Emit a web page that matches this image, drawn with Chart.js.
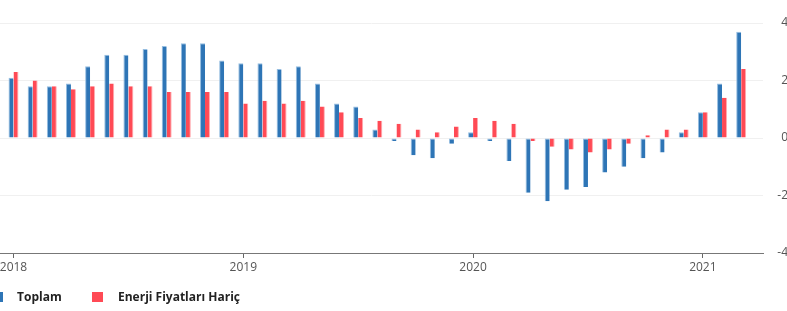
<!DOCTYPE html>
<html>
<head>
<meta charset="utf-8">
<script src="https://cdn.jsdelivr.net/npm/chart.js@4.4.1/dist/chart.umd.min.js"></script>
<style>
    html, body { margin: 0; padding: 0; background: #fff; overflow: hidden; }
    #wrap { position: relative; width: 787px; height: 311px; overflow: hidden; }
    #chartBox { position: absolute; left: -20px; top: 0; width: 808px; height: 311px; }
    .legend { position: absolute; top: 285px; left: 0; height: 24px; font: bold 12px "Open Sans", sans-serif; color: #222; }
    .legend .box { position: absolute; top: 7px; width: 11px; height: 10px; }
    .legend .txt { position: absolute; top: 3px; white-space: nowrap; }
</style>
</head>
<body>
<div id="wrap">
    <div id="chartBox"><canvas id="chart"></canvas></div>
    <div class="legend" id="legend"></div>
</div>
<script>
const months = [
    '2018-01','2018-02','2018-03','2018-04','2018-05','2018-06','2018-07','2018-08','2018-09','2018-10','2018-11','2018-12',
    '2019-01','2019-02','2019-03','2019-04','2019-05','2019-06','2019-07','2019-08','2019-09','2019-10','2019-11','2019-12',
    '2020-01','2020-02','2020-03','2020-04','2020-05','2020-06','2020-07','2020-08','2020-09','2020-10','2020-11','2020-12',
    '2021-01','2021-02','2021-03'
];
const toplam = [
    2.1, 1.8, 1.8, 1.9, 2.5, 2.9, 2.9, 3.1, 3.2, 3.3, 3.3, 2.7,
    2.6, 2.6, 2.4, 2.5, 1.9, 1.2, 1.1, 0.3, -0.1, -0.6, -0.7, -0.2,
    0.2, -0.1, -0.8, -1.9, -2.2, -1.8, -1.7, -1.2, -1.0, -0.7, -0.5, 0.2,
    0.9, 1.9, 3.7
];
const enerjiHaric = [
    2.3, 2.0, 1.8, 1.7, 1.8, 1.9, 1.8, 1.8, 1.6, 1.6, 1.6, 1.6,
    1.2, 1.3, 1.2, 1.3, 1.1, 0.9, 0.7, 0.6, 0.5, 0.3, 0.2, 0.4,
    0.7, 0.6, 0.5, -0.1, -0.3, -0.4, -0.5, -0.4, -0.2, 0.1, 0.3, 0.3,
    0.9, 1.4, 2.4
];
const yearTicks = ['2018-01', '2019-01', '2020-01', '2021-01'];
const yTicks = [-4, -2, 0, 2, 4];
const seriesNames = ['Toplam', 'Enerji Fiyatları Hariç'];

const BLUE = 'rgb(46,117,182)';
const RED = 'rgb(255,74,85)';

function toPoints(values) {
    return values.map(function (v, i) { return { x: i, y: v }; });
}

var ctx = document.getElementById('chart');

var chart = new Chart(ctx, {
    type: 'bar',
    data: {
        datasets: [
            {
                label: seriesNames[0],
                data: toPoints(toplam),
                backgroundColor: BLUE,
                borderColor: 'rgba(150,190,225,1)',
                borderWidth: { left: 1, top: 1, right: 0, bottom: 0 },
                borderSkipped: false
            },
            {
                label: seriesNames[1],
                data: toPoints(enerjiHaric),
                backgroundColor: RED,
                borderColor: 'rgba(255,170,175,1)',
                borderWidth: { left: 0, top: 0, right: 1, bottom: 0 },
                borderSkipped: false
            }
        ]
    },
    options: {
        animation: false,
        responsive: true,
        maintainAspectRatio: false,
        categoryPercentage: 0.52,
        barPercentage: 1,
        layout: { padding: { top: 23, bottom: 30, left: 0, right: 0 } },
        plugins: {
            legend: { display: false },
            tooltip: { enabled: false }
        },
        scales: {
            x: {
                type: 'linear',
                min: -1.75,
                max: 39.14,
                offset: false,
                afterBuildTicks: function (scale) {
                    scale.ticks = yearTicks.map(function (m) { return { value: months.indexOf(m) }; });
                },
                afterFit: function (scale) { scale.height = 28; },
                ticks: {
                    autoSkip: false,
                    maxRotation: 0,
                    padding: 2,
                    color: '#555',
                    font: { family: 'Open Sans', size: 12 },
                    callback: function (v) { return months[v].slice(0, 4); }
                },
                grid: {
                    offset: false,
                    drawOnChartArea: false,
                    drawTicks: true,
                    tickLength: 5,
                    color: '#666'
                },
                border: { display: true, color: '#777', width: 1 }
            },
            y: {
                position: 'right',
                min: -4,
                max: 4,
                afterBuildTicks: function (scale) {
                    scale.ticks = yTicks.map(function (v) { return { value: v }; });
                },
                afterFit: function (scale) { scale.width = 25; },
                ticks: {
                    crossAlign: 'far',
                    padding: 14,
                    color: '#555',
                    font: { family: 'Open Sans', size: 12 }
                },
                grid: {
                    drawTicks: false,
                    color: '#f0f0f0'
                },
                border: { display: false }
            }
        }
    }
});

// legend drawn as html, first box cut off at the left like the source
var legend = document.getElementById('legend');
var legendItems = [
    { name: seriesNames[0], color: BLUE, boxX: -8, textX: 17 },
    { name: seriesNames[1], color: RED, boxX: 92, textX: 118 }
];
legendItems.forEach(function (item) {
    var box = document.createElement('div');
    box.className = 'box';
    box.style.left = item.boxX + 'px';
    box.style.background = item.color;
    legend.appendChild(box);
    var txt = document.createElement('div');
    txt.className = 'txt';
    txt.style.left = item.textX + 'px';
    txt.textContent = item.name;
    legend.appendChild(txt);
});
</script>
</body>
</html>
